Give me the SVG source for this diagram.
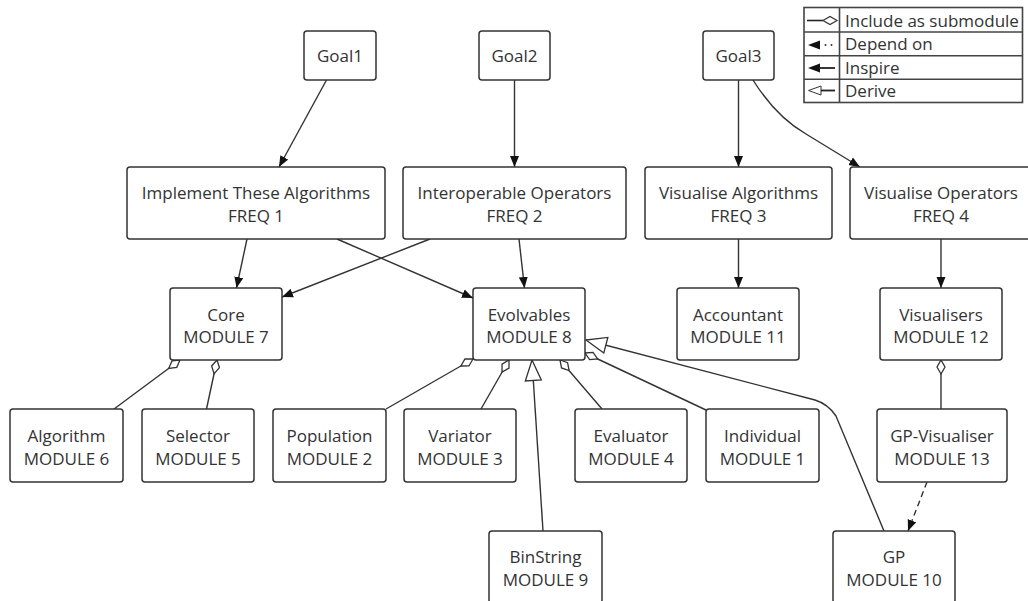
<svg xmlns="http://www.w3.org/2000/svg" width="1028" height="601" viewBox="0 0 1028 601">
  <style>
    .box { fill: #ffffff; stroke: #333333; stroke-width: 1.5; }
    .lbl { font-family: "Open Sans", "Liberation Sans", sans-serif; font-size: 17px; fill: #333333; text-anchor: middle; }
    .leg { font-family: "Open Sans", "Liberation Sans", sans-serif; font-size: 17px; fill: #333333; }
    .edge { fill: none; stroke: #333333; stroke-width: 1.4; }
    .inspire { marker-end: url(#arrowFilled); }
    .include { marker-start: url(#diamond); }
    .derive { marker-end: url(#triHollow); }
    .depend { stroke-dasharray: 6 4; marker-end: url(#arrowFilled); }
    .legline { fill: none; stroke: #444444; stroke-width: 1.6; }
  </style>
  <defs>
    <marker id="arrowFilled" markerUnits="userSpaceOnUse" markerWidth="14" markerHeight="12" refX="11" refY="5" orient="auto">
      <path d="M0,0.5 L11,5 L0,9.5 Z" fill="#111111"/>
    </marker>
    <marker id="diamond" markerUnits="userSpaceOnUse" markerWidth="16" markerHeight="12" refX="0.5" refY="5" orient="auto">
      <path d="M0.5,5 L7.5,1 L14.5,5 L7.5,9 Z" fill="#ffffff" stroke="#333333" stroke-width="1.3"/>
    </marker>
    <marker id="triHollow" markerUnits="userSpaceOnUse" markerWidth="24" markerHeight="20" refX="21.5" refY="9" orient="auto">
      <path d="M1,1 L21.5,9 L1,17 Z" fill="#ffffff" stroke="#333333" stroke-width="1.3"/>
    </marker>
  </defs>

  <rect width="1028" height="601" fill="#ffffff"/>

  <!-- connectors -->
  <g id="connectors">
    <path class="edge inspire" d="M326.5,80 L279,167"/>
    <path class="edge inspire" d="M514.5,80 V167"/>
    <path class="edge inspire" d="M738.5,80 V167"/>
    <path class="edge inspire" d="M753,80 C768,104 785,122 806,134 L860,167"/>
    <path class="edge inspire" d="M247,239 L236.5,288"/>
    <path class="edge inspire" d="M337,239 L473,298"/>
    <path class="edge inspire" d="M430,239 L282,297"/>
    <path class="edge inspire" d="M519,239 L524.5,288"/>
    <path class="edge inspire" d="M738.5,239 V288"/>
    <path class="edge inspire" d="M941,239 V288"/>

    <path class="edge include" d="M180,360 L114,409"/>
    <path class="edge include" d="M217,360 L206.5,409"/>
    <path class="edge include" d="M473,359 L386,409"/>
    <path class="edge include" d="M509,360 L481,409"/>
    <path class="edge include" d="M560,360 L602,409"/>
    <path class="edge include" d="M585,353 L706,410"/>
    <path class="edge include" d="M941,360 V409"/>

    <path class="edge derive" d="M543,531 L532,360"/>
    <path class="edge derive" d="M884,531 L836,416 Q828,404 815,400 L586,340"/>

    <path class="edge depend" d="M927,482 L908,531"/>
  </g>

  <!-- goals -->
  <g id="goal1">
    <rect class="box" x="304" y="31" width="72" height="49" rx="3"/>
    <text class="lbl" x="340" y="62">Goal1</text>
  </g>
  <g id="goal2">
    <rect class="box" x="479" y="31" width="71" height="49" rx="3"/>
    <text class="lbl" x="514.5" y="62">Goal2</text>
  </g>
  <g id="goal3">
    <rect class="box" x="703" y="31" width="71" height="49" rx="3"/>
    <text class="lbl" x="738.5" y="62">Goal3</text>
  </g>

  <!-- functional requirements -->
  <g id="freq1">
    <rect class="box" x="127" y="167" width="258" height="72" rx="3"/>
    <text class="lbl" x="256" y="199">Implement These Algorithms</text>
    <text class="lbl" x="256" y="222">FREQ 1</text>
  </g>
  <g id="freq2">
    <rect class="box" x="403" y="167" width="223" height="72" rx="3"/>
    <text class="lbl" x="514.5" y="199">Interoperable Operators</text>
    <text class="lbl" x="514.5" y="222">FREQ 2</text>
  </g>
  <g id="freq3">
    <rect class="box" x="645" y="167" width="187" height="72" rx="3"/>
    <text class="lbl" x="738.5" y="199">Visualise Algorithms</text>
    <text class="lbl" x="738.5" y="222">FREQ 3</text>
  </g>
  <g id="freq4">
    <rect class="box" x="850" y="167" width="183" height="72" rx="3"/>
    <text class="lbl" x="941" y="199">Visualise Operators</text>
    <text class="lbl" x="941" y="222">FREQ 4</text>
  </g>

  <!-- modules -->
  <g id="core">
    <rect class="box" x="170" y="288" width="112" height="72" rx="3"/>
    <text class="lbl" x="226" y="320.5">Core</text>
    <text class="lbl" x="226" y="343">MODULE 7</text>
  </g>
  <g id="evolvables">
    <rect class="box" x="473" y="288" width="112" height="72" rx="3"/>
    <text class="lbl" x="529" y="320.5">Evolvables</text>
    <text class="lbl" x="529" y="343">MODULE 8</text>
  </g>
  <g id="accountant">
    <rect class="box" x="677" y="288" width="122" height="72" rx="3"/>
    <text class="lbl" x="738" y="320.5">Accountant</text>
    <text class="lbl" x="738" y="343">MODULE 11</text>
  </g>
  <g id="visualisers">
    <rect class="box" x="880" y="288" width="122" height="72" rx="3"/>
    <text class="lbl" x="941" y="320.5">Visualisers</text>
    <text class="lbl" x="941" y="343">MODULE 12</text>
  </g>

  <g id="algorithm">
    <rect class="box" x="10" y="409" width="113" height="73" rx="3"/>
    <text class="lbl" x="66.5" y="441.5">Algorithm</text>
    <text class="lbl" x="66.5" y="464.5">MODULE 6</text>
  </g>
  <g id="selector">
    <rect class="box" x="142" y="409" width="112" height="73" rx="3"/>
    <text class="lbl" x="198" y="441.5">Selector</text>
    <text class="lbl" x="198" y="464.5">MODULE 5</text>
  </g>
  <g id="population">
    <rect class="box" x="273" y="409" width="113" height="73" rx="3"/>
    <text class="lbl" x="329.5" y="441.5">Population</text>
    <text class="lbl" x="329.5" y="464.5">MODULE 2</text>
  </g>
  <g id="variator">
    <rect class="box" x="404" y="409" width="112" height="73" rx="3"/>
    <text class="lbl" x="460" y="441.5">Variator</text>
    <text class="lbl" x="460" y="464.5">MODULE 3</text>
  </g>
  <g id="evaluator">
    <rect class="box" x="575" y="409" width="112" height="73" rx="3"/>
    <text class="lbl" x="631" y="441.5">Evaluator</text>
    <text class="lbl" x="631" y="464.5">MODULE 4</text>
  </g>
  <g id="individual">
    <rect class="box" x="706" y="409" width="113" height="73" rx="3"/>
    <text class="lbl" x="762.5" y="441.5">Individual</text>
    <text class="lbl" x="762.5" y="464.5">MODULE 1</text>
  </g>
  <g id="gp-visualiser">
    <rect class="box" x="877" y="409" width="130" height="73" rx="3"/>
    <text class="lbl" x="942" y="441.5">GP-Visualiser</text>
    <text class="lbl" x="942" y="464.5">MODULE 13</text>
  </g>

  <g id="binstring">
    <rect class="box" x="489" y="531" width="113" height="72" rx="3"/>
    <text class="lbl" x="545.5" y="563">BinString</text>
    <text class="lbl" x="545.5" y="586">MODULE 9</text>
  </g>
  <g id="gp">
    <rect class="box" x="833" y="531" width="122" height="72" rx="3"/>
    <text class="lbl" x="894" y="563">GP</text>
    <text class="lbl" x="894" y="586">MODULE 10</text>
  </g>

  <!-- legend -->
  <g id="legend">
    <rect x="804" y="7.5" width="218.5" height="95" fill="#ffffff" stroke="#444444" stroke-width="1.6"/>
    <line class="legline" x1="804" y1="32" x2="1022.5" y2="32"/>
    <line class="legline" x1="804" y1="55.7" x2="1022.5" y2="55.7"/>
    <line class="legline" x1="804" y1="79.3" x2="1022.5" y2="79.3"/>
    <line class="legline" x1="839.5" y1="7.5" x2="839.5" y2="102.5"/>

    <!-- include -->
    <line x1="807" y1="20.5" x2="823" y2="20.5" stroke="#222222" stroke-width="1.6"/>
    <path d="M823,20.5 L830,16.5 L837,20.5 L830,24.5 Z" fill="#ffffff" stroke="#333333" stroke-width="1.2"/>
    <!-- depend -->
    <path d="M808,45 L820,40.5 L820,49.5 Z" fill="#111111"/>
    <circle cx="825.5" cy="45" r="1" fill="#333333"/>
    <circle cx="831.5" cy="45" r="1" fill="#333333"/>
    <!-- inspire -->
    <path d="M808,68 L820,63.5 L820,72.5 Z" fill="#111111"/>
    <line x1="819" y1="68" x2="835" y2="68" stroke="#222222" stroke-width="1.8"/>
    <!-- derive -->
    <path d="M808.5,90.5 L821,86 L821,95 Z" fill="#ffffff" stroke="#333333" stroke-width="1"/>
    <line x1="821" y1="90.5" x2="835" y2="90.5" stroke="#222222" stroke-width="1.8"/>

    <text class="leg" x="845" y="26.5">Include as submodule</text>
    <text class="leg" x="845" y="50">Depend on</text>
    <text class="leg" x="845" y="73.5">Inspire</text>
    <text class="leg" x="845" y="96.5">Derive</text>
  </g>
</svg>
